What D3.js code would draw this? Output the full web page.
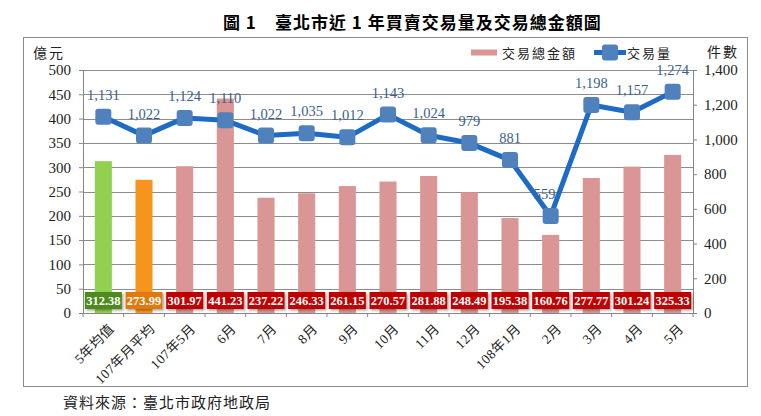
<!DOCTYPE html>
<html>
<head>
<meta charset="utf-8">
<script src="https://cdn.jsdelivr.net/npm/d3@7"></script>
<style>
  body { margin: 0; background: #fff; }
  text { font-family: "Liberation Serif", "Noto Sans CJK TC", serif; }
</style>
</head>
<body>
<div class="chart"></div>
<script>
var categories = ["5年均值", "107年月平均", "107年5月", "6月", "7月", "8月", "9月", "10月",
  "11月", "12月", "108年1月", "2月", "3月", "4月", "5月"];
var amounts = [312.38, 273.99, 301.97, 441.23, 237.22, 246.33, 261.15, 270.57,
  281.88, 248.49, 195.38, 160.76, 277.77, 301.24, 325.33];
var volumes = [1131, 1022, 1124, 1110, 1022, 1035, 1012, 1143, 1024, 979, 881, 559, 1198, 1157, 1274];
var leftTicks = [0, 50, 100, 150, 200, 250, 300, 350, 400, 450, 500];
var rightTicks = [0, 200, 400, 600, 800, 1000, 1200, 1400];

var svgWidth = 761;
var svgHeight = 416;
var margin = { top: 70, right: 68, bottom: 103, left: 83 };
var width = svgWidth - margin.left - margin.right;
var height = svgHeight - margin.top - margin.bottom;

var barColors = ["#92d050", "#f7941d"];
var boxColors = ["#4f8a1c", "#e07a10"];
var fmt = d3.format(",");
var serif = "'Liberation Serif', 'Noto Sans CJK TC', serif";

var svg = d3.select(".chart").append("svg")
  .attr("width", svgWidth)
  .attr("height", svgHeight);

var defs = svg.append("defs");
var shadow = defs.append("filter").attr("id", "shadow").attr("x", "-20%").attr("y", "-30%")
  .attr("width", "150%").attr("height", "170%");
shadow.append("feDropShadow").attr("dx", 1.5).attr("dy", 1.5).attr("stdDeviation", 1)
  .attr("flood-color", "#000").attr("flood-opacity", 0.35);

// title
svg.append("text")
  .attr("x", 223).attr("y", 29)
  .style("font-family", "'Noto Sans CJK TC', serif")
  .style("font-weight", "bold").style("font-size", "17px")
  .style("letter-spacing", "1px")
  .text("圖 1　臺北市近 1 年買賣交易量及交易總金額圖");

// outer frame
svg.append("rect")
  .attr("x", 23.5).attr("y", 37.5).attr("width", 724).attr("height", 349)
  .attr("fill", "none").attr("stroke", "#8c8c8c");

var chartGroup = svg.append("g")
  .attr("transform", `translate(${margin.left}, ${margin.top})`);

var x = d3.scaleBand().domain(categories).range([0, width]);
var yL = d3.scaleLinear().domain([0, 500]).range([height, 0]);
var yR = d3.scaleLinear().domain([0, 1400]).range([height, 0]);

// gridlines
chartGroup.append("g").selectAll("line").data(leftTicks.slice(1)).join("line")
  .attr("x1", 0).attr("x2", width)
  .attr("y1", d => Math.round(yL(d)) + 0.5).attr("y2", d => Math.round(yL(d)) + 0.5)
  .attr("stroke", "#8c8c8c").attr("stroke-width", 1);

// axes
var leftAxis = d3.axisLeft(yL).tickValues(leftTicks).tickSize(4).tickPadding(8);
var rightAxis = d3.axisRight(yR).tickValues(rightTicks).tickSize(4).tickPadding(7).tickFormat(fmt);
var bottomAxis = d3.axisBottom(x).tickSize(0).tickFormat("");

var gl = chartGroup.append("g").call(leftAxis);
var gr = chartGroup.append("g").attr("transform", `translate(${width},0)`).call(rightAxis);
var gb = chartGroup.append("g").attr("transform", `translate(0,${height})`).call(bottomAxis);
[gl, gr, gb].forEach(function(g) {
  g.attr("font-family", serif);
  g.select(".domain").attr("stroke", "#868686");
  g.selectAll(".tick line").attr("stroke", "#868686");
  g.selectAll(".tick text").style("font-size", "15px").style("font-family", serif).attr("fill", "#222");
});

// category separator ticks
chartGroup.append("g").selectAll("line").data(d3.range(categories.length + 1)).join("line")
  .attr("x1", i => i * x.step()).attr("x2", i => i * x.step())
  .attr("y1", height).attr("y2", height + 4)
  .attr("stroke", "#868686");

// category labels
chartGroup.append("g").selectAll("text").data(categories).join("text")
  .attr("transform", d => `translate(${x(d) + x.bandwidth() / 2 + 5},${height + 10}) rotate(-45)`)
  .attr("text-anchor", "end")
  .attr("dy", "0.7em")
  .style("font-size", "13.5px")
  .style("letter-spacing", "0.5px")
  .attr("fill", "#222")
  .text(d => d);

// bars
var barW = x.bandwidth() * 0.42;
chartGroup.append("g").selectAll("rect").data(amounts).join("rect")
  .attr("x", (d, i) => x(categories[i]) + (x.bandwidth() - barW) / 2)
  .attr("y", d => yL(d))
  .attr("width", barW)
  .attr("height", d => height - yL(d))
  .attr("fill", (d, i) => barColors[i] || "#d99694");

// line
var line = d3.line()
  .x((d, i) => x(categories[i]) + x.bandwidth() / 2)
  .y(d => yR(d));
chartGroup.append("path").datum(volumes)
  .attr("d", line)
  .attr("fill", "none")
  .attr("stroke", "#1e6bc5")
  .attr("stroke-width", 5)
  .attr("stroke-linejoin", "round");

chartGroup.append("g").selectAll("rect").data(volumes).join("rect")
  .attr("x", (d, i) => x(categories[i]) + x.bandwidth() / 2 - 8)
  .attr("y", d => yR(d) - 8)
  .attr("width", 16).attr("height", 16)
  .attr("rx", 3)
  .attr("fill", "#4f81bd");

chartGroup.append("g").selectAll("text").data(volumes).join("text")
  .attr("x", (d, i) => x(categories[i]) + x.bandwidth() / 2 - (d < 700 ? 6 : 0))
  .attr("y", d => yR(d) - 17)
  .attr("text-anchor", "middle")
  .style("font-size", "14.5px")
  .attr("fill", "#3b5f8c")
  .text(d => fmt(d));

// value boxes
var boxes = chartGroup.append("g").selectAll("g").data(amounts).join("g")
  .attr("transform", (d, i) => `translate(${x(categories[i]) + x.bandwidth() / 2},${height - 21})`);
boxes.append("rect")
  .attr("x", -18.5).attr("y", 0).attr("width", 37).attr("height", 17)
  .attr("fill", (d, i) => boxColors[i] || "#c00000")
  .attr("filter", "url(#shadow)");
boxes.append("text")
  .attr("y", 13)
  .attr("text-anchor", "middle")
  .style("font-size", "12.5px").style("font-weight", "bold")
  .attr("fill", "#fff")
  .text(d => d.toFixed(2));

// unit labels
svg.append("text").attr("x", 33).attr("y", 58)
  .style("font-size", "14px").style("letter-spacing", "2px").attr("fill", "#222").text("億元");
svg.append("text").attr("x", 707).attr("y", 57)
  .style("font-size", "14px").style("letter-spacing", "2px").attr("fill", "#222").text("件數");

// legend
svg.append("rect").attr("x", 471).attr("y", 49.5).attr("width", 26).attr("height", 6).attr("fill", "#d99694");
svg.append("text").attr("x", 502).attr("y", 58).style("font-size", "13px")
  .style("letter-spacing", "2px").attr("fill", "#222").text("交易總金額");
svg.append("line").attr("x1", 594).attr("x2", 626).attr("y1", 52.5).attr("y2", 52.5)
  .attr("stroke", "#1e6bc5").attr("stroke-width", 5);
svg.append("rect").attr("x", 602).attr("y", 44.5).attr("width", 16).attr("height", 16)
  .attr("rx", 3).attr("fill", "#4f81bd");
svg.append("text").attr("x", 627).attr("y", 58).style("font-size", "13px")
  .style("letter-spacing", "2px").attr("fill", "#222").text("交易量");

// source
svg.append("text").attr("x", 63).attr("y", 408)
  .style("font-size", "15px").style("letter-spacing", "1px").attr("fill", "#222").text("資料來源：臺北市政府地政局");
</script>
</body>
</html>
